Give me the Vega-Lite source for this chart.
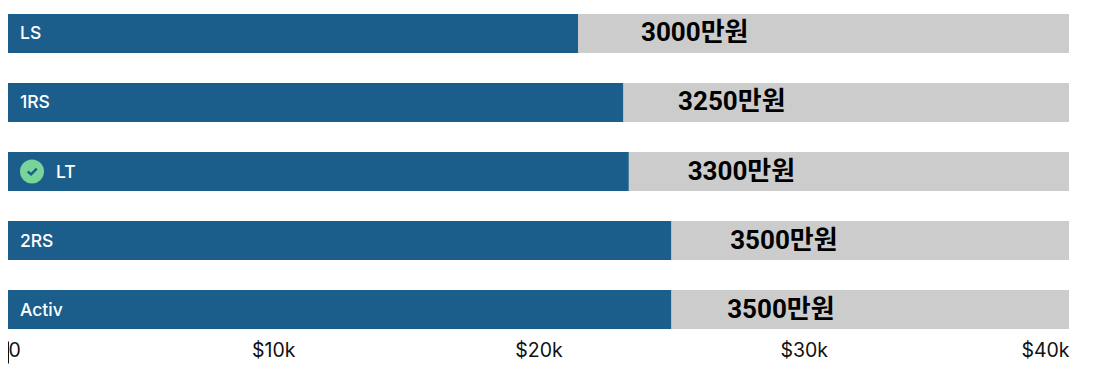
{"$schema":"https://vega.github.io/schema/vega-lite/v6.json","width":1061,"height":315,"autosize":{"type":"none"},"padding":{"left":8,"top":14,"right":29,"bottom":46},"background":"#ffffff","view":{"stroke":null},
"data":{"values":[
{"trim":"LS","price":21490,"label":"3000만원","checked":false},
{"trim":"1RS","price":23190,"label":"3250만원","checked":false},
{"trim":"LT","price":23400,"label":"3300만원","checked":true},
{"trim":"2RS","price":25000,"label":"3500만원","checked":false},
{"trim":"Activ","price":25000,"label":"3500만원","checked":false}]},
"encoding":{"y":{"field":"trim","type":"nominal","sort":null,"axis":null,"scale":{"paddingInner":0.4348,"paddingOuter":0}}},
"layer":[
{"mark":{"type":"bar","color":"#cccccc"},"encoding":{"x":{"datum":40000,"type":"quantitative","scale":{"domain":[0,40000],"nice":false},"axis":{"values":[0,10000,20000,30000,40000],"labelExpr":"datum.value===0?'0':'$'+datum.value/1000+'k'","grid":false,"domain":false,"offset":12,"tickSize":22,"tickColor":"#111111","tickOpacity":{"expr":"datum.value===0?1:0"},"labelFlush":true,"labelFont":"Inter","labelFontSize":19.5,"labelColor":"#111111","labelPadding":-22,"title":null}}}},
{"mark":{"type":"bar","color":"#1b5e8c"},"encoding":{"x":{"field":"price","type":"quantitative"}}},
{"transform":[{"filter":"!datum.checked"}],"mark":{"type":"text","align":"left","dx":12,"dy":1,"font":"Inter","fontSize":17.5,"fontWeight":500,"color":"#ffffff"},"encoding":{"x":{"datum":0,"type":"quantitative"},"text":{"field":"trim"}}},
{"transform":[{"filter":"datum.checked"}],"mark":{"type":"text","align":"left","dx":48,"dy":1,"font":"Inter","fontSize":17.5,"fontWeight":500,"color":"#ffffff"},"encoding":{"x":{"datum":0,"type":"quantitative"},"text":{"field":"trim"}}},
{"transform":[{"filter":"datum.checked"}],"mark":{"type":"point","shape":"circle","filled":true,"opacity":1,"color":"#79d49a","size":576,"xOffset":24},"encoding":{"x":{"datum":0,"type":"quantitative"}}},
{"transform":[{"filter":"datum.checked"}],"mark":{"type":"point","shape":"M-0.45,0 L-0.1,0.3 L0.5,-0.3","filled":false,"opacity":1,"color":"#1b5e8c","strokeWidth":2.4,"size":360,"xOffset":24},"encoding":{"x":{"datum":0,"type":"quantitative"}}},
{"transform":[{"filter":"datum.trim==='LS'"}],"mark":{"type":"text","align":"left","dx":63,"dy":0,"font":"Roboto, Noto Sans CJK KR","fontSize":26,"fontWeight":"bold","color":"#000000"},"encoding":{"x":{"field":"price","type":"quantitative"},"text":{"field":"label"}}},
{"transform":[{"filter":"datum.trim==='1RS'"}],"mark":{"type":"text","align":"left","dx":55,"dy":0,"font":"Roboto, Noto Sans CJK KR","fontSize":26,"fontWeight":"bold","color":"#000000"},"encoding":{"x":{"field":"price","type":"quantitative"},"text":{"field":"label"}}},
{"transform":[{"filter":"datum.trim==='LT'"}],"mark":{"type":"text","align":"left","dx":59,"dy":0,"font":"Roboto, Noto Sans CJK KR","fontSize":26,"fontWeight":"bold","color":"#000000"},"encoding":{"x":{"field":"price","type":"quantitative"},"text":{"field":"label"}}},
{"transform":[{"filter":"datum.trim==='2RS'"}],"mark":{"type":"text","align":"left","dx":59,"dy":0,"font":"Roboto, Noto Sans CJK KR","fontSize":26,"fontWeight":"bold","color":"#000000"},"encoding":{"x":{"field":"price","type":"quantitative"},"text":{"field":"label"}}},
{"transform":[{"filter":"datum.trim==='Activ'"}],"mark":{"type":"text","align":"left","dx":56,"dy":0,"font":"Roboto, Noto Sans CJK KR","fontSize":26,"fontWeight":"bold","color":"#000000"},"encoding":{"x":{"field":"price","type":"quantitative"},"text":{"field":"label"}}}
]}
